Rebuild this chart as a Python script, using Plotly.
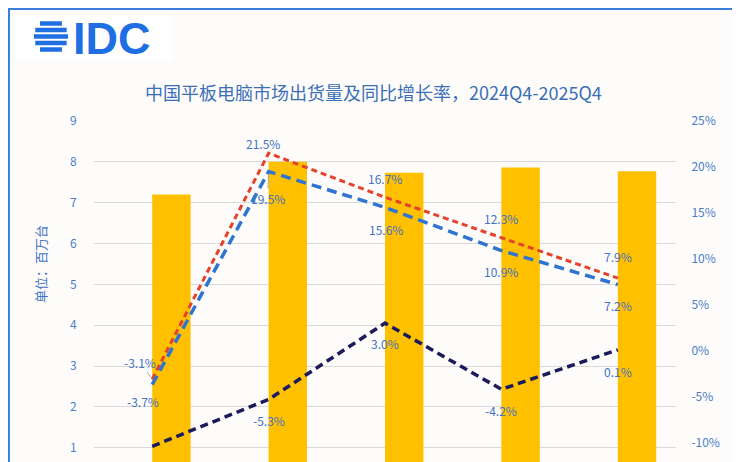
import plotly.graph_objects as go

# ---------------- data ----------------
quarters = ["2024Q4", "2025Q1", "2025Q2", "2025Q3", "2025Q4"]
shipments = [7.20, 8.00, 7.73, 7.86, 7.77]          # 百万台
growth_total = [-3.1, 21.5, 16.7, 12.3, 7.9]        # %
growth_b = [-3.7, 19.5, 15.6, 10.9, 7.2]            # %
growth_c = [-10.4, -5.3, 3.0, -4.2, 0.1]            # %

title_text = "中国平板电脑市场出货量及同比增长率，2024Q4-2025Q4"
y_title = "单位：百万台"
left_ticks = [1, 2, 3, 4, 5, 6, 7, 8, 9]
right_ticks = [-10, -5, 0, 5, 10, 15, 20, 25]
right_labels = [f"{v}%" for v in right_ticks]

# ---------------- layout geometry (screen coords, page has 8px body margin) ----------------
OFF = 8
SL, SR, ST, SB = 94, 675.7, 121, 462     # plot area on screen
W, H = 732, 454
ML = SL - OFF
MR = W - (SR - OFF)
MT = ST - OFF
MB = H - (SB - OFF)


def px(x):
    return (x - SL) / (SR - SL)


def py(y):
    return (SB - y) / (SB - ST)


left_min = 0.65
left_range = [left_min, 9]
right_range = [-15 + left_min * 40 / 9, 25]

TICK_COLOR = "#4A7CC9"
LABEL_COLOR = "#4472C4"
RED = "#E5412B"
BLUE = "#2F74D0"
NAVY = "#1B1B5C"
FONT = "Noto Sans CJK SC"

fig = go.Figure()

fig.add_trace(go.Bar(
    x=quarters, y=shipments, name="出货量",
    marker=dict(color="#FFC000", line=dict(width=0)),
    offset=0, width=0.33, yaxis="y",
))

fig.add_trace(go.Scatter(
    x=quarters, y=growth_total, name="同比增长率", mode="lines",
    line=dict(color=RED, width=3, dash="6px,4px"), yaxis="y2",
))
fig.add_trace(go.Scatter(
    x=quarters, y=growth_b, name="同比增长率B", mode="lines",
    line=dict(color=BLUE, width=3.5, dash="10px,6px"), yaxis="y2",
))
fig.add_trace(go.Scatter(
    x=quarters, y=growth_c, name="同比增长率C", mode="lines",
    line=dict(color=NAVY, width=3.5, dash="8px,5px"), yaxis="y2",
))

# ---------------- data labels ----------------
annotations = []
label_font = dict(family=FONT, size=12, color=LABEL_COLOR)

# (dx, dy, arrow) per point; dy positive = downwards on screen
red_off = [(-12, -17, True), (-6, -10, False), (0, -19, False), (0, -19, False), (0, -22, False)]
blue_off = [(-9, 17, False), (-1, 27, True), (1, 22, False), (0, 21, False), (0, 21, False)]
navy_off = [None, (0, 21, False), (0, 20, False), (0, 21, False), (0, 22, False)]

for vals, offs in ((growth_total, red_off), (growth_b, blue_off), (growth_c, navy_off)):
    for q, v, o in zip(quarters, vals, offs):
        if o is None:
            continue
        dx, dy, arrow = o
        if arrow:
            annotations.append(dict(
                x=q, y=v, xref="x", yref="y2", text=f"{v:.1f}%",
                showarrow=True, ax=dx, ay=dy, arrowhead=0, arrowwidth=1,
                arrowcolor="#A6A6A6", standoff=3, font=label_font,
            ))
        else:
            annotations.append(dict(
                x=q, y=v, xref="x", yref="y2", text=f"{v:.1f}%",
                showarrow=False, xshift=dx, yshift=-dy, font=label_font,
            ))

# title
annotations.append(dict(
    x=px(373), y=py(92), xref="paper", yref="paper", text=title_text,
    showarrow=False, xanchor="center", yanchor="middle",
    font=dict(family=FONT, size=18, color="#3B6FB6"),
))
# y axis title
annotations.append(dict(
    x=px(40), y=py(264), xref="paper", yref="paper", text=y_title,
    showarrow=False, textangle=-90, xanchor="center", yanchor="middle",
    font=dict(family=FONT, size=13, color=LABEL_COLOR),
))
# logo text
annotations.append(dict(
    x=px(71), y=py(38.5), xref="paper", yref="paper", text="<b>IDC</b>",
    showarrow=False, xanchor="left", yanchor="middle",
    font=dict(family="Liberation Sans", size=45, color="#1F6FE2"),
))

# ---------------- shapes (logo box, globe, frame) ----------------
shapes = [
    dict(type="rect", xref="paper", yref="paper", x0=px(15), x1=px(172), y0=py(60), y1=py(15),
         fillcolor="#FFFFFF", line=dict(width=0), layer="below"),
]
cx, cy, r = 51, 36.5, 17
for dyy in (-13, -6.5, 0, 6.5, 13):
    half = (r * r - dyy * dyy) ** 0.5
    shapes.append(dict(
        type="line", xref="paper", yref="paper",
        x0=px(cx - half), x1=px(cx + half), y0=py(cy + dyy), y1=py(cy + dyy),
        line=dict(color="#1F6FE2", width=4.5),
    ))
shapes.append(dict(
    type="rect", xref="paper", yref="paper", x0=px(9), x1=px(738.5), y0=py(475), y1=py(9),
    line=dict(color="#3C7DD9", width=2), fillcolor="rgba(0,0,0,0)", layer="above",
))

fig.update_layout(
    width=W, height=H,
    margin=dict(l=ML, r=MR, t=MT, b=MB, autoexpand=False),
    paper_bgcolor="#FDFCFA", plot_bgcolor="#FDFCFA",
    font=dict(family=FONT, size=12, color=TICK_COLOR),
    showlegend=False,
    xaxis=dict(
        type="category", range=[-0.5, 4.5], showticklabels=False, showgrid=False,
        zeroline=False, showline=False, ticks="", automargin=False,
    ),
    yaxis=dict(
        range=left_range, tickvals=left_ticks, showgrid=True, gridcolor="#D9D9D9",
        gridwidth=1, zeroline=False, showline=False, ticks="outside", ticklen=14,
        tickcolor="rgba(0,0,0,0)", tickfont=dict(family=FONT, size=12, color=TICK_COLOR),
        automargin=False,
    ),
    yaxis2=dict(
        range=right_range, tickmode="array", tickvals=right_ticks, ticktext=right_labels,
        overlaying="y", side="right", showgrid=False, zeroline=False, showline=False,
        ticks="outside", ticklen=12, tickcolor="rgba(0,0,0,0)",
        tickfont=dict(family=FONT, size=12, color=TICK_COLOR), automargin=False,
    ),
    annotations=annotations,
    shapes=shapes,
)

fig.write_html("out.html")
